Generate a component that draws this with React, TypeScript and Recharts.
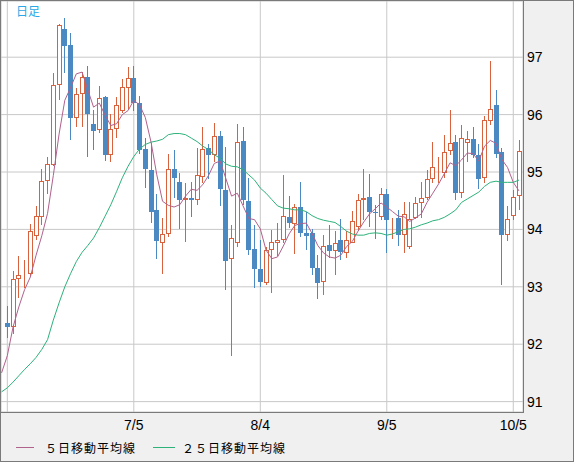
import React from 'react';
import { ComposedChart, Bar, Line, XAxis, YAxis, CartesianGrid } from 'recharts';

// first entry is the day before the visible window (only the averages show there)
const dates = [
  '6/2', '6/3', '6/6', '6/7', '6/8', '6/9', '6/10', '6/13', '6/14', '6/15', '6/16', '6/17',
  '6/20', '6/21', '6/22', '6/23', '6/24', '6/27', '6/28', '6/29', '6/30', '7/1',
  '7/4', '7/5', '7/6', '7/7', '7/8', '7/11', '7/12', '7/13', '7/14', '7/15',
  '7/18', '7/19', '7/20', '7/21', '7/22', '7/25', '7/26', '7/27', '7/28', '7/29',
  '8/1', '8/2', '8/3', '8/4', '8/5', '8/8', '8/9', '8/10', '8/11', '8/12',
  '8/15', '8/16', '8/17', '8/18', '8/19', '8/22', '8/23', '8/24', '8/25', '8/26',
  '8/29', '8/30', '8/31', '9/1', '9/2', '9/5', '9/6', '9/7', '9/8', '9/9',
  '9/12', '9/13', '9/14', '9/15', '9/16', '9/19', '9/20', '9/21', '9/22', '9/23',
  '9/26', '9/27', '9/28', '9/29', '9/30', '10/3', '10/4', '10/5', '10/6',
];

const opens = [
  null, 92.37, 92.30, 93.13, 93.20, 93.23, 93.88, 94.22, 94.84, 95.13, 96.51,
  97.49, 97.21, 95.94, 96.36, 96.65, 95.84, 95.74, 96.30, 95.29, 95.75,
  96.07, 96.46, 96.63, 96.20, 95.40, 95.04, 94.33, 93.77, 93.92, 95.05,
  94.83, 94.52, 94.54, 94.51, 94.91, 95.42, 95.29, 95.63, 94.69, 93.48,
  93.77, 95.54, 94.50, 93.65, 93.31, 93.06, 93.64, 93.77, 93.81, 94.22,
  94.10, 94.39, 93.94, 93.93, 93.33, 93.08, 93.72, 93.62, 93.81, 93.59,
  93.77, 94.04, 94.51, 94.57, 94.31, 94.21, 94.62, 94.17, 94.19, 93.90,
  93.70, 94.20, 94.46, 94.55, 94.88, 94.97, 94.98, 95.36, 95.52, 94.63,
  95.50, 95.58, 95.29, 94.90, 95.88, 96.17, 95.35, 93.90, 94.23, 94.58,
];
const highs = [
  null, 92.66, 93.27, 93.53, 93.47, 94.10, 94.40, 95.05, 95.27, 96.73, 97.58,
  97.68, 97.42, 96.47, 96.75, 96.85, 96.08, 96.50, 96.32, 96.01, 96.30,
  96.62, 96.83, 96.85, 96.33, 95.59, 95.50, 94.62, 94.20, 95.32, 95.39,
  94.98, 94.80, 94.83, 95.42, 95.79, 95.49, 95.85, 95.72, 95.43, 94.08,
  95.84, 95.78, 94.90, 94.08, 93.82, 93.70, 93.99, 94.12, 94.94, 94.59,
  94.45, 94.83, 94.30, 94.00, 93.56, 93.91, 94.07, 93.97, 94.18, 93.97,
  94.32, 94.61, 95.06, 94.96, 94.43, 94.72, 94.71, 94.20, 94.33, 94.47,
  94.47, 94.57, 94.83, 95.04, 95.52, 95.27, 95.65, 96.08, 95.65, 95.82,
  95.71, 95.78, 95.48, 95.98, 96.94, 96.43, 95.41, 94.40, 94.69, 95.56,
];
const lows = [
  null, 92.11, 92.17, 92.81, 92.98, 93.19, 93.82, 94.07, 94.62, 95.10, 96.25,
  96.73, 95.56, 95.78, 95.78, 95.26, 95.39, 95.68, 95.20, 95.17, 95.60,
  96.03, 96.08, 96.06, 95.32, 94.72, 94.12, 93.48, 93.23, 93.87, 94.55,
  94.01, 93.78, 94.21, 94.43, 94.81, 94.88, 95.17, 94.41, 92.95, 91.79,
  93.69, 94.43, 93.56, 92.98, 93.00, 93.04, 92.90, 93.53, 93.77, 94.03,
  93.57, 93.86, 93.64, 93.21, 92.79, 92.85, 93.50, 93.21, 93.46, 93.50,
  93.77, 93.97, 94.16, 94.04, 93.84, 94.17, 93.59, 93.84, 93.71, 93.59,
  93.66, 94.18, 94.20, 94.52, 94.81, 94.81, 94.90, 95.30, 94.52, 94.54,
  95.17, 95.24, 94.71, 94.81, 95.82, 95.24, 93.04, 93.79, 94.17, 94.34,
];
const closes = [
  null, 92.30, 93.13, 93.20, 93.22, 93.98, 94.23, 94.84, 95.14, 96.51, 97.56,
  97.19, 95.94, 96.36, 96.65, 96.01, 95.71, 96.29, 95.30, 95.75, 96.17,
  96.48, 96.63, 96.20, 95.39, 95.06, 94.30, 93.79, 93.92, 95.05, 94.90,
  94.51, 94.54, 94.52, 94.94, 95.40, 95.29, 95.62, 94.71, 93.45, 93.85,
  95.52, 94.51, 93.64, 93.31, 93.08, 93.64, 93.78, 93.81, 94.24, 94.11,
  94.39, 93.94, 93.89, 93.33, 93.07, 93.71, 93.62, 93.77, 93.60, 93.81,
  94.15, 94.52, 94.55, 94.30, 94.30, 94.62, 94.16, 94.18, 93.90, 94.26,
  94.18, 94.46, 94.55, 94.88, 95.09, 94.98, 95.35, 95.50, 94.63, 95.59,
  95.57, 95.29, 94.88, 95.91, 96.10, 95.32, 93.91, 94.18, 94.57, 95.37,
];
const ma5 = [
  91.50, 91.80, 92.30, 92.65, 92.95, 93.17, 93.55, 93.89, 94.28, 94.94, 95.66,
  96.25, 96.47, 96.71, 96.74, 96.43, 96.13, 96.20, 95.99, 95.81, 95.84,
  96.00, 96.07, 96.25, 96.17, 95.95, 95.52, 94.95, 94.49, 94.42, 94.39,
  94.43, 94.58, 94.70, 94.68, 94.78, 94.94, 95.15, 95.19, 94.89, 94.58,
  94.63, 94.41, 94.19, 94.17, 94.01, 93.64, 93.49, 93.52, 93.71, 93.92,
  94.07, 94.10, 94.11, 93.93, 93.72, 93.59, 93.52, 93.50, 93.55, 93.70,
  93.79, 93.97, 94.13, 94.27, 94.36, 94.46, 94.39, 94.31, 94.23, 94.22,
  94.14, 94.20, 94.27, 94.47, 94.63, 94.79, 94.97, 95.16, 95.11, 95.21,
  95.33, 95.32, 95.19, 95.45, 95.55, 95.50, 95.22, 95.08, 94.82, 94.67,
];
const ma25 = [
  91.17, 91.24, 91.34, 91.45, 91.56, 91.66, 91.77, 91.91, 92.08, 92.42, 92.72,
  93.00, 93.23, 93.44, 93.60, 93.72, 93.85, 94.03, 94.23, 94.43, 94.66,
  94.90, 95.10, 95.27, 95.40, 95.48, 95.52, 95.54, 95.57, 95.65, 95.67,
  95.67, 95.65, 95.59, 95.53, 95.45, 95.39, 95.30, 95.24, 95.14, 95.10,
  95.09, 95.04, 94.95, 94.86, 94.72, 94.63, 94.52, 94.41, 94.37, 94.36,
  94.34, 94.34, 94.31, 94.24, 94.19, 94.16, 94.14, 94.12, 94.05, 93.97,
  93.92, 93.90, 93.90, 93.93, 93.94, 93.93, 93.90, 93.92, 93.96, 94.00,
  94.01, 94.04, 94.08, 94.11, 94.15, 94.17, 94.21, 94.27, 94.34, 94.47,
  94.53, 94.59, 94.65, 94.75, 94.82, 94.84, 94.82, 94.82, 94.82, 94.86,
];

const xTicks = ['6/3', '7/5', '8/4', '9/5', '10/5'];
const yTicks = [91, 92, 93, 94, 95, 96, 97];

const UP = '#d8623d';
const DOWN = '#4a89c2';
const MA5_COLOR = '#b0618c';
const MA25_COLOR = '#2db27a';
const FONT = '"Liberation Sans", Arial, sans-serif';
const JP_FONT = '"Noto Sans CJK JP", sans-serif';

const data = dates.map((d, i) => ({
  date: d,
  open: opens[i],
  high: highs[i],
  low: lows[i],
  close: closes[i],
  ma5: ma5[i],
  ma25: ma25[i],
}));

function Candle(props: any) {
  const { x, y, width, height, payload } = props;
  if (!payload || payload.open == null || !isFinite(y) || !isFinite(height)) return <g />;
  const { open, high, low, close } = payload;
  const top = Math.min(y, y + height);
  const bottom = Math.max(y, y + height);
  const ratio = high === low ? 0 : (bottom - top) / (high - low);
  const yOpen = top + (high - open) * ratio;
  const yClose = top + (high - close) * ratio;
  const cx = Math.floor(x + width / 2);
  const up = close >= open;
  const bTop = Math.round(Math.min(yOpen, yClose));
  const bBot = Math.round(Math.max(yOpen, yClose));
  const color = up ? UP : DOWN;
  return (
    <g>
      <line x1={cx + 0.5} x2={cx + 0.5} y1={Math.round(top)} y2={Math.round(bottom)} stroke={color} strokeWidth={1} />
      {up ? (
        <rect x={cx - 1.5} y={bTop + 0.5} width={4} height={Math.max(bBot - bTop - 1, 0)} fill="#ffffff" stroke={color} strokeWidth={1} />
      ) : (
        <rect x={cx - 2} y={bTop} width={5} height={Math.max(bBot - bTop, 1)} fill={color} />
      )}
    </g>
  );
}

export default function App() {
  return (
    <div style={{ position: 'absolute', left: 0, top: 0, width: 574, height: 462, background: '#f0f0f0' }}>
      <ComposedChart
        width={574}
        height={462}
        data={data}
        margin={{ top: 1, right: 0, bottom: 0, left: 1 }}
        barCategoryGap={0}
      >
        <CartesianGrid stroke="#c8c8c8" fill="#ffffff" fillOpacity={1} />
        <XAxis
          dataKey="date"
          ticks={xTicks}
          interval={0}
          height={50}
          padding={{ left: -2.3, right: 1.1 }}
          axisLine={false}
          tickLine={false}
          tickSize={0}
          tickMargin={8}
          tickFormatter={(v: string) => (v === '6/3' ? '' : v)}
          tick={{ fill: '#000000', fontSize: 14, fontFamily: FONT }}
        />
        <YAxis
          orientation="right"
          width={51}
          type="number"
          domain={[90.819, 97.979]}
          allowDataOverflow
          ticks={yTicks}
          axisLine={false}
          tickLine={false}
          tickSize={0}
          tickMargin={4}
          tick={{ fill: '#000000', fontSize: 14, fontFamily: FONT }}
        />
        <Bar
          dataKey={(d: any) => (d.open == null ? null : [d.low, d.high])}
          shape={Candle}
          isAnimationActive={false}
        />
        <Line type="linear" dataKey="ma25" stroke={MA25_COLOR} strokeWidth={1} dot={false} activeDot={false} isAnimationActive={false} />
        <Line type="linear" dataKey="ma5" stroke={MA5_COLOR} strokeWidth={1} dot={false} activeDot={false} isAnimationActive={false} />
      </ComposedChart>

      <div style={{ position: 'absolute', left: 16, top: 2, fontFamily: JP_FONT, fontSize: 12, color: '#2aa7e6' }}>日足</div>

      <div style={{ position: 'absolute', left: 0, top: 0, width: 524, height: 413, boxSizing: 'border-box', borderRight: '1px solid #7a7a7a', borderBottom: '1px solid #7a7a7a', pointerEvents: 'none' }} />

      <div style={{ position: 'absolute', left: 16, top: 447, width: 18, height: 1, background: MA5_COLOR }} />
      <div style={{ position: 'absolute', left: 45, top: 439, fontFamily: JP_FONT, fontSize: 12, letterSpacing: 1, lineHeight: '18px', color: '#000' }}>５日移動平均線</div>
      <div style={{ position: 'absolute', left: 153, top: 447, width: 22, height: 1, background: MA25_COLOR }} />
      <div style={{ position: 'absolute', left: 182, top: 439, fontFamily: JP_FONT, fontSize: 12, letterSpacing: 1, lineHeight: '18px', color: '#000' }}>２５日移動平均線</div>

      <div style={{ position: 'absolute', left: 0, top: 0, width: 574, height: 462, boxSizing: 'border-box', border: '1px solid #7a7a7a', pointerEvents: 'none' }} />
    </div>
  );
}
